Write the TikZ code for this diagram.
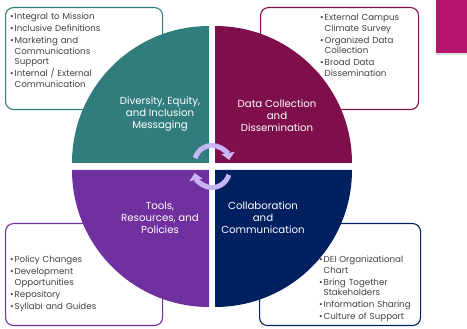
\documentclass[tikz,border=0pt]{standalone}
\usepackage{fontspec}
\setmainfont{Poppins}
\usetikzlibrary{arrows.meta}
\definecolor{deiteal}{RGB}{49,125,125}
\definecolor{deimaroon}{RGB}{127,15,75}
\definecolor{deipurple}{RGB}{112,48,160}
\definecolor{deinavy}{RGB}{0,32,96}
\definecolor{deipink}{RGB}{181,22,108}
\definecolor{deilav}{RGB}{200,182,244}
\definecolor{deigray}{RGB}{64,64,64}
\newcommand{\itm}[1]{\hangindent=4.5pt\hangafter=1\noindent\makebox[4.5pt][l]{\textbullet}#1\par}
\newcommand{\nl}{\hfil\break}

\begin{document}
\begin{tikzpicture}[x=1pt,y=-1pt,
    infobox/.style={draw, line width=1.1pt, rounded corners=8pt, inner sep=0pt, anchor=north west},
    boxtext/.style={anchor=north west, inner sep=0pt, text width=110pt, align=left, text=deigray,
        font=\fontsize{8.7}{10.5}\selectfont\setlength{\parskip}{1.5pt}},
    qlabel/.style={text=white, align=center, inner sep=0pt, font=\fontsize{10.2}{12}\selectfont},
    cyc/.style={deilav, line width=5pt, -{Triangle[length=7pt,width=13pt]}}]
    \useasboundingbox (0,0) rectangle (467,329);
    % boxes:
    \node[infobox, draw=deiteal, minimum width=157pt, minimum height=102pt] (mission box) at (5,7) {};
    \node[infobox, draw=deimaroon, minimum width=158pt, minimum height=102pt] (data box) at (260,7) {};
    \node[infobox, draw=deipurple, minimum width=157pt, minimum height=102pt] (tools box) at (5,223) {};
    \node[infobox, draw=deinavy, minimum width=161pt, minimum height=102pt] (collab box) at (259,223) {};
    % quadrants:
    \fill[deiteal] (209,163) -- ++(-137,0) arc[start angle=180, end angle=90, radius=137pt] -- cycle;
    \fill[deimaroon] (215,163) -- ++(0,-137) arc[start angle=90, end angle=0, radius=137pt] -- cycle;
    \fill[deinavy] (215,170) -- ++(137,0) arc[start angle=0, end angle=-90, radius=137pt] -- cycle;
    \fill[deipurple] (209,170) -- ++(0,137) arc[start angle=270, end angle=180, radius=137pt] -- cycle;
    % corner tab:
    \fill[black!12] (436,53) rectangle (467,55);
    \fill[deipink] (436,0) rectangle (467,53);
    % arrows:
    \draw[cyc] (212,163) ++(164:17.5pt) arc[start angle=164, end angle=10, radius=17.5pt];
    \draw[cyc] (212,170) ++(-16:17.5pt) arc[start angle=-16, end angle=-170, radius=17.5pt];
    % labels:
    \node[qlabel] (mission) at (160,114) {Diversity, Equity,\\and Inclusion\\Messaging};
    \node[qlabel] (data) at (277,116) {Data Collection\\and\\Dissemination};
    \node[qlabel] (tools) at (160,218) {Tools,\\Resources, and\\Policies};
    \node[qlabel] (collab) at (263,218) {Collaboration\\and\\Communication};
    % box texts:
    \node[boxtext] (mission list) at (10,13) {\itm{Integral to Mission}\itm{Inclusive Definitions}%
        \itm{Marketing and\nl Communications\nl Support}\itm{Internal / External\nl Communication}};
    \node[boxtext] (data list) at (320,14) {\itm{External Campus\nl Climate Survey}%
        \itm{Organized Data\nl Collection}\itm{Broad Data\nl Dissemination}};
    \node[boxtext] (tools list) at (10,256) {\itm{Policy Changes}\itm{Development\nl Opportunities}%
        \itm{Repository}\itm{Syllabi and Guides}};
    \node[boxtext] (collab list) at (319,256) {\itm{DEI Organizational\nl Chart}%
        \itm{Bring Together\nl Stakeholders}\itm{Information Sharing}\itm{Culture of Support}};
\end{tikzpicture}
\end{document}
